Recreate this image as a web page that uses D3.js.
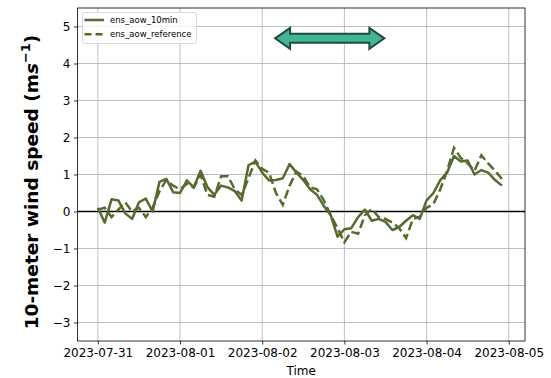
<!DOCTYPE html>
<html>
<head>
<meta charset="utf-8">
<script src="https://cdn.jsdelivr.net/npm/d3@7"></script>
<style>
  html, body { margin: 0; padding: 0; background: #fff; }
  svg { display: block; font-family: "DejaVu Sans", sans-serif; }
</style>
</head>
<body>
<svg id="chart" width="551" height="378"></svg>
<script>
// Two-hourly 10-m wind speed anomalies, starting 2023-07-31 00:00 UTC
const startTime = Date.UTC(2023, 6, 31, 0, 0);
const stepHours = 2;

const ens10min = [
  0.10, -0.30, 0.33, 0.30, -0.05, -0.20, 0.25, 0.35, 0.00, 0.80,
  0.88, 0.52, 0.50, 0.84, 0.65, 1.10, 0.66, 0.45, 0.70, 0.65,
  0.55, 0.30, 1.25, 1.35, 1.05, 0.84, 0.85, 0.90, 1.28, 1.05,
  0.85, 0.60, 0.45, 0.15, -0.10, -0.68, -0.48, -0.45, -0.15, 0.05,
  -0.25, -0.20, -0.28, -0.50, -0.42, -0.25, -0.10, -0.20, 0.30, 0.50,
  0.85, 1.05, 1.50, 1.35, 1.38, 1.00, 1.12, 1.05, 0.85, 0.70
];

const ensReference = [
  0.05, 0.10, -0.15, 0.05, 0.25, 0.00, 0.10, -0.15, 0.10, 0.55,
  0.85, 0.70, 0.60, 0.75, 0.65, 1.00, 0.45, 0.40, 0.95, 0.95,
  0.60, 0.45, 0.90, 1.38, 1.15, 1.05, 0.50, 0.18, 0.70, 1.08,
  0.95, 0.65, 0.60, 0.30, -0.10, -0.45, -0.83, -0.55, -0.60, -0.10,
  0.07, -0.15, -0.20, -0.30, -0.45, -0.72, -0.20, -0.15, 0.10, 0.20,
  0.60, 1.10, 1.72, 1.45, 1.30, 1.10, 1.52, 1.30, 1.10, 0.88
];

const seriesNames = ["ens_aow_10min", "ens_aow_reference"];
const xTickLabels = ["2023-07-31", "2023-08-01", "2023-08-02", "2023-08-03", "2023-08-04", "2023-08-05"];
const yTicks = [-3, -2, -1, 0, 1, 2, 3, 4, 5];
const yDomain = [-3.5, 5.5];

// Double-headed annotation arrow (time span and height)
const arrowSpan = [Date.UTC(2023, 7, 2, 3, 45), Date.UTC(2023, 7, 3, 11, 40)];
const arrowLevel = 4.68;

const times = ens10min.map((_, i) => new Date(startTime + i * stepHours * 3600e3));

const margin = { left: 77.5, right: 26, top: 8, bottom: 37 };
const W = 551, H = 378;
const svg = d3.select("#chart");

// x extent with 5% padding on either side of the data
const t0 = +times[0], t1 = +times[times.length - 1] + 3600e3 * 0.8;
const pad = (t1 - t0) * 0.05;
const x = d3.scaleUtc()
  .domain([new Date(t0 - pad), new Date(t1 + pad)])
  .range([margin.left, W - margin.right]);
const y = d3.scaleLinear().domain(yDomain).range([H - margin.bottom, margin.top]);

const tickDates = xTickLabels.map(s => new Date(s + "T00:00:00Z"));

// grid
const grid = svg.append("g").attr("stroke", "#b0b0b0").attr("stroke-width", 0.8);
grid.selectAll("line.v").data(tickDates).join("line")
  .attr("x1", d => x(d)).attr("x2", d => x(d))
  .attr("y1", margin.top).attr("y2", H - margin.bottom);
grid.selectAll("line.h").data(yTicks).join("line")
  .attr("x1", margin.left).attr("x2", W - margin.right)
  .attr("y1", d => y(d)).attr("y2", d => y(d));

// zero reference line
svg.append("line")
  .attr("x1", margin.left).attr("x2", W - margin.right)
  .attr("y1", y(0)).attr("y2", y(0))
  .attr("stroke", "#000").attr("stroke-width", 1.6);

const color = "#556b2f";
const line = d3.line().x((d, i) => x(times[i])).y(d => y(d));

svg.append("path").datum(ens10min)
  .attr("d", line).attr("fill", "none")
  .attr("stroke", color).attr("stroke-width", 2.5)
  .attr("stroke-linejoin", "round");
svg.append("path").datum(ensReference)
  .attr("d", line).attr("fill", "none")
  .attr("stroke", color).attr("stroke-width", 2.5)
  .attr("stroke-dasharray", "9,4");

// arrow
{
  const xa = x(new Date(arrowSpan[0])), xb = x(new Date(arrowSpan[1])), yc = y(arrowLevel);
  const hl = 15, hw = 10.5, sw = 4.5;
  const pts = [
    [xa, yc], [xa + hl, yc - hw], [xa + hl, yc - sw], [xb - hl, yc - sw], [xb - hl, yc - hw],
    [xb, yc], [xb - hl, yc + hw], [xb - hl, yc + sw], [xa + hl, yc + sw], [xa + hl, yc + hw]
  ];
  svg.append("polygon")
    .attr("points", pts.map(p => p.join(",")).join(" "))
    .attr("fill", "#45b395").attr("stroke", "#1e4d3b").attr("stroke-width", 2)
    .attr("stroke-linejoin", "miter");
}

// axes
const xAxis = d3.axisBottom(x).tickValues(tickDates)
  .tickFormat((d, i) => xTickLabels[i]).tickSize(3.5).tickPadding(3.5);
const gx = svg.append("g").attr("transform", `translate(0,${H - margin.bottom})`).call(xAxis);
const yAxis = d3.axisLeft(y).tickValues(yTicks)
  .tickFormat(d => d < 0 ? "\u2212" + Math.abs(d) : d).tickSize(3.5).tickPadding(3.5);
const gy = svg.append("g").attr("transform", `translate(${margin.left},0)`).call(yAxis);
[gx, gy].forEach(g => {
  g.select(".domain").remove();
  g.selectAll("text").attr("font-size", 12).attr("fill", "#000")
    .attr("font-family", "DejaVu Sans, sans-serif");
  g.selectAll("line").attr("stroke", "#000").attr("stroke-width", 0.8);
});

// frame
svg.append("rect")
  .attr("x", margin.left).attr("y", margin.top)
  .attr("width", W - margin.left - margin.right).attr("height", H - margin.top - margin.bottom)
  .attr("fill", "none").attr("stroke", "#000").attr("stroke-width", 0.8);

// labels
svg.append("text").attr("x", (margin.left + W - margin.right) / 2).attr("y", 375)
  .attr("text-anchor", "middle").attr("font-size", 12).text("Time");

const yl = svg.append("text")
  .attr("transform", "translate(37.5,182) rotate(-90)")
  .attr("text-anchor", "middle").attr("font-size", 18.5).attr("font-weight", "bold");
yl.append("tspan").text("10-meter wind speed (m");
yl.append("tspan").attr("font-style", "italic").text("s");
yl.append("tspan").attr("dy", -8).attr("font-size", 13).text("\u22121");
yl.append("tspan").attr("dy", 8).text(")");

// legend
const lg = svg.append("g").attr("transform", "translate(82.5,12.5)");
lg.append("rect").attr("width", 114).attr("height", 31).attr("rx", 2)
  .attr("fill", "#fff").attr("fill-opacity", 0.8).attr("stroke", "#d0d0d0").attr("stroke-width", 0.8);
seriesNames.forEach((name, i) => {
  const ly = 7.5 + i * 14.3;
  lg.append("line").attr("x1", 2).attr("x2", 21.5).attr("y1", ly).attr("y2", ly)
    .attr("stroke", color).attr("stroke-width", 2.5)
    .attr("stroke-dasharray", i === 1 ? "7,4" : null);
  lg.append("text").attr("x", 27.5).attr("y", ly + 3).attr("font-size", 8.5).text(name);
});
</script>
</body>
</html>
